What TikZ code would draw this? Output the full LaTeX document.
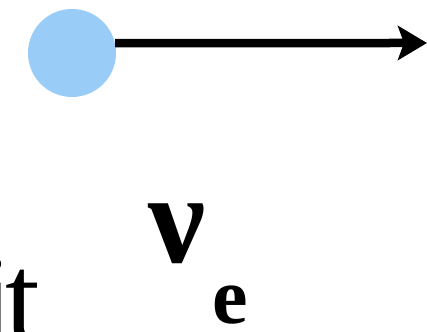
\documentclass[tikz,border=0pt]{standalone}
\usepackage{fontspec}
\setmainfont{Liberation Serif}
\usetikzlibrary{arrows.meta}
\definecolor{dotblue}{RGB}{153,204,247}
\begin{document}
\begin{tikzpicture}[x=1pt,y=1pt]
  \useasboundingbox (0,0) rectangle (427,331);
  \clip (0,0) rectangle (427,331);
  \node[circle,fill=dotblue,minimum size=88pt,inner sep=0pt] (dot) at (72,278) {};
  \coordinate (tip) at (427,288);
  \draw[line width=8.5pt,-{Stealth[length=29pt,width=34pt,inset=6pt]}] (dot.13) -- (tip);
  \node[anchor=base east,inner sep=0pt] (word) at (40,-9) {\fontsize{125}{125}\selectfont i\kern-8.5pt t};
  \node[anchor=base west,inner sep=0pt] (nu) at (148,68) {\fontsize{128}{128}\selectfont\bfseries ν};
  \node[anchor=base west,inner sep=0pt] (sub) at (212,8) {\fontsize{80}{80}\selectfont\bfseries e};
\end{tikzpicture}
\end{document}
